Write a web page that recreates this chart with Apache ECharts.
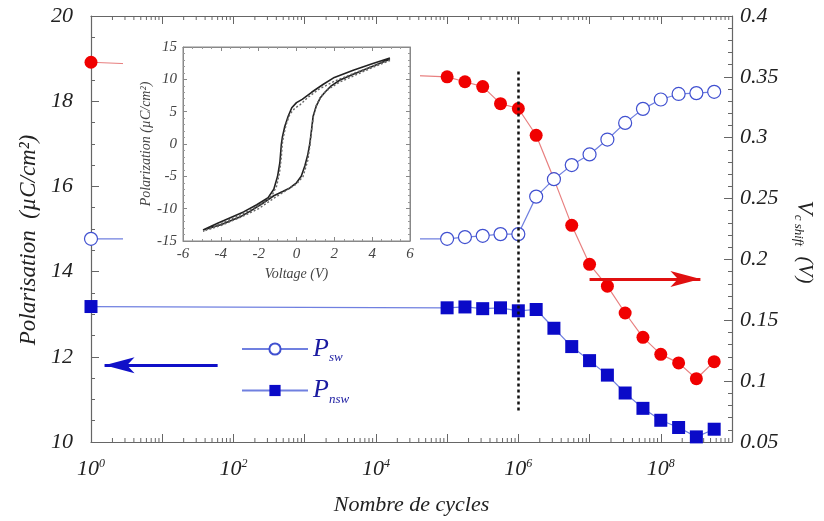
<!DOCTYPE html>
<html>
<head>
<meta charset="utf-8">
<script src="https://cdn.jsdelivr.net/npm/echarts@6/dist/echarts.min.js"></script>
<style>
  html, body { margin: 0; padding: 0; background: #fff; }
  #main { width: 824px; height: 521px; }
</style>
</head>
<body>
<div id="main"></div>
<script>
var myChart = echarts.init(document.getElementById('main'));

// nombre de cycles (log)
var cycles = [1, 1e5, 1.78e5, 3.16e5, 5.62e5, 1e6, 1.78e6, 3.16e6, 5.62e6,
              1e7, 1.78e7, 3.16e7, 5.62e7, 1e8, 1.78e8, 3.16e8, 5.62e8];
// V c shift (axe de droite)
var vcShift = [0.362, 0.350, 0.346, 0.342, 0.328, 0.324, 0.302, 0.266, 0.228,
               0.196, 0.178, 0.156, 0.136, 0.122, 0.115, 0.102, 0.116];
// P sw / P nsw (axe de gauche)
var pSw = [14.77, 14.77, 14.81, 14.84, 14.88, 14.88, 15.76, 16.17, 16.50,
           16.75, 17.10, 17.49, 17.82, 18.04, 18.17, 18.19, 18.22];
var pNsw = [13.18, 13.15, 13.17, 13.13, 13.15, 13.08, 13.11, 12.67, 12.24,
            11.91, 11.57, 11.15, 10.79, 10.51, 10.34, 10.12, 10.30];

// cycle d'hysteresis (encart) : branche haute puis basse
var upper1V = [4.94, 4.0, 3.0, 2.0, 1.4, 0.8, 0.3, 0, -0.25, -0.44, -0.62, -0.75, -0.8, -0.88, -1.0, -1.2, -1.5, -2.1, -2.8, -3.5, -4.2, -4.94];
var upper1P = [13.3, 12.4, 11.4, 10.3, 9.2, 8.0, 6.9, 6.4, 5.6, 4.3, 2.7, 1.0, 0, -2.9, -5.0, -7.0, -8.3, -9.4, -10.5, -11.4, -12.3, -13.3];
var lower1V = [-4.94, -4.0, -3.0, -2.4, -1.8, -1.2, -0.7, -0.35, 0, 0.25, 0.44, 0.6, 0.7, 0.78, 0.88, 1.05, 1.25, 1.5, 1.8, 2.3, 3.0, 4.0, 4.94];
var lower1P = [-13.5, -12.5, -11.3, -10.3, -9.2, -8.0, -7.3, -6.8, -6.0, -5.0, -3.4, -1.6, 0, 1.8, 4.3, 5.9, 7.1, 8.0, 8.9, 9.9, 10.8, 12.0, 13.1];
var upper2V = [4.94, 4.0, 3.0, 2.0, 1.2, 0.6, 0.2, -0.1, -0.35, -0.55, -0.7, -0.75, -0.8, -0.9, -1.05, -1.3, -1.7, -2.3, -3.0, -4.0, -4.94];
var upper2P = [13.0, 12.0, 10.9, 9.7, 8.5, 7.2, 6.1, 5.5, 4.6, 3.0, 1.0, 0, -2.0, -4.5, -6.5, -8.0, -9.0, -10.0, -11.0, -12.3, -13.5];
var lower2V = [-4.94, -4.0, -3.0, -2.0, -1.2, -0.5, 0, 0.35, 0.6, 0.72, 0.8, 0.9, 1.05, 1.3, 1.7, 2.3, 3.0, 4.0, 4.94];
var lower2P = [-13.7, -12.6, -11.4, -10.0, -8.4, -7.1, -6.2, -5.0, -2.5, 0, 2.2, 4.3, 6.0, 7.4, 8.5, 9.6, 10.5, 11.8, 12.9];

function pairs(xs, ys) {
    return xs.map(function (x, i) { return [x, ys[i]]; });
}

// graduations secondaires 2..9 x 10^k de l'axe log
var minorTicks = [];
for (var k = 0; k < 9; k++) {
    for (var m = 2; m < 10; m++) {
        minorTicks.push([m * Math.pow(10, k), 10]);
    }
}

var serif = 'Liberation Serif';
var axisCol = '#666';
var insetCol = '#888';

function mainTicks(split) {
    return {
        axisLine: { lineStyle: { color: axisCol, width: 1.2 } },
        axisTick: { inside: true, length: 8, lineStyle: { color: axisCol } },
        minorTick: { show: true, splitNumber: split, length: 4, lineStyle: { color: axisCol } },
        splitLine: { show: false }
    };
}

// axes de l'encart (dessines sur le calque 1, au-dessus du cache blanc)
function insetAxis(extra, split) {
    return Object.assign({
        gridIndex: 1, type: 'value', zlevel: 1, z: 4,
        axisLine: { onZero: false, lineStyle: { color: insetCol } },
        axisTick: { inside: true, length: 4, lineStyle: { color: insetCol } },
        minorTick: { show: true, splitNumber: split, length: 2, lineStyle: { color: '#999' } },
        axisLabel: { fontSize: 15, color: '#444', margin: 6 },
        nameTextStyle: { fontSize: 14, color: '#444', fontFamily: serif, fontStyle: 'italic' },
        splitLine: { show: false }
    }, extra);
}

var logLabel = function (v) {
    var e = Math.round(Math.log(v) / Math.LN10);
    if (e % 2) return '';
    return '{b|10}{s|' + e + '}';
};

myChart.setOption({
    animation: false,
    backgroundColor: '#fff',
    textStyle: { fontFamily: serif, fontStyle: 'italic' },
    grid: [
        { left: 91, top: 16, right: 90, bottom: 77 },
        { left: 183, top: 47, width: 227, height: 194, show: true, zlevel: 1, z: 3,
          backgroundColor: '#fff', borderColor: insetCol, borderWidth: 1 }
    ],
    graphic: {
        elements: [
            { type: 'rect', left: 123, top: 28, zlevel: 1, z: 0, silent: true,
              shape: { width: 297, height: 255 }, style: { fill: '#fff' } }
        ]
    },
    legend: {
        data: ['P_sw', 'P_nsw'],
        orient: 'vertical',
        left: 236, top: 331,
        itemWidth: 66, itemHeight: 14, itemGap: 13,
        formatter: function (name) {
            return '{p|P}{s|' + name.split('_')[1] + '}';
        },
        textStyle: {
            rich: {
                p: { fontSize: 26, color: '#1a1aa0', fontFamily: serif, fontStyle: 'italic' },
                s: { fontSize: 13, color: '#1a1aa0', fontFamily: serif, fontStyle: 'italic',
                     verticalAlign: 'bottom', padding: [18, 0, 0, 0] }
            }
        }
    },
    xAxis: [
        Object.assign({
            gridIndex: 0, type: 'log', logBase: 10, min: 1, max: 1e9, interval: 1,
            name: 'Nombre de cycles', nameLocation: 'middle', nameGap: 52,
            nameTextStyle: { fontSize: 22, color: '#222', fontFamily: serif, fontStyle: 'italic' },
            axisLabel: {
                margin: 16, formatter: logLabel, color: '#222',
                rich: {
                    b: { fontSize: 22, fontFamily: serif, fontStyle: 'italic', color: '#222' },
                    s: { fontSize: 12, fontFamily: serif, fontStyle: 'italic', color: '#222', verticalAlign: 'top' }
                }
            }
        }, mainTicks(1), { minorTick: { show: false } }),
        Object.assign({
            gridIndex: 0, type: 'log', logBase: 10, min: 1, max: 1e9, interval: 1,
            position: 'top', axisLabel: { show: false }
        }, mainTicks(1), { minorTick: { show: false } }),
        insetAxis({ min: -6, max: 6, interval: 2, name: 'Voltage (V)', nameLocation: 'middle', nameGap: 26 }, 4),
        insetAxis({ min: -6, max: 6, interval: 2, position: 'top', axisLabel: { show: false } }, 4)
    ],
    yAxis: [
        Object.assign({
            gridIndex: 0, type: 'value', min: 10, max: 20, interval: 2,
            name: 'Polarisation  (\u00b5C/cm\u00b2)', nameLocation: 'middle', nameGap: 46,
            nameTextStyle: { fontSize: 23, color: '#222', fontFamily: serif, fontStyle: 'italic',
                             padding: [0, 22, 0, 0] },
            axisLabel: { fontSize: 22, color: '#222', margin: 18 }
        }, mainTicks(4)),
        Object.assign({
            gridIndex: 0, type: 'value', min: 0.05, max: 0.4, interval: 0.05, position: 'right',
            name: '{v|V}{s|c shift}{n|  (V)}', nameLocation: 'middle', nameGap: 60, nameRotate: -90,
            nameTextStyle: {
                padding: [0, 0, 0, 26],
                rich: {
                    v: { fontSize: 23, color: '#222', fontFamily: serif, fontStyle: 'italic' },
                    s: { fontSize: 13, color: '#222', fontFamily: serif, fontStyle: 'italic', verticalAlign: 'bottom', padding: [12, 0, 0, 0] },
                    n: { fontSize: 21, color: '#222', fontFamily: serif, fontStyle: 'italic' }
                }
            },
            axisLabel: { fontSize: 22, color: '#222', margin: 8 }
        }, mainTicks(5)),
        insetAxis({ min: -15, max: 15, interval: 5, name: 'Polarization (\u00b5C/cm\u00b2)', nameLocation: 'middle', nameGap: 26 }, 5),
        insetAxis({ min: -15, max: 15, interval: 5, position: 'right', axisLabel: { show: false } }, 5)
    ],
    series: [
        {
            name: 'Vc', type: 'line', xAxisIndex: 0, yAxisIndex: 1,
            data: pairs(cycles, vcShift), clip: false,
            symbol: 'circle', symbolSize: 13,
            itemStyle: { color: '#f00000' },
            lineStyle: { color: '#e88080', width: 1.2 },
            markLine: {
                silent: true, symbol: ['none', 'arrow'], symbolSize: [12, 30],
                label: { show: false },
                lineStyle: { color: '#e01010', width: 3, type: 'solid' },
                data: [[{ coord: [1e7, 0.184] }, { coord: [3.6e8, 0.184] }]]
            }
        },
        {
            name: 'P_sw', type: 'line', xAxisIndex: 0, yAxisIndex: 0,
            data: pairs(cycles, pSw), clip: false,
            symbol: 'circle', symbolSize: 13,
            itemStyle: { color: '#fff', borderColor: '#4050d0', borderWidth: 1.2 },
            lineStyle: { color: '#7080e0', width: 1.2 }
        },
        {
            name: 'P_nsw', type: 'line', xAxisIndex: 0, yAxisIndex: 0,
            data: pairs(cycles, pNsw), clip: false,
            symbol: 'rect', symbolSize: 13,
            itemStyle: { color: '#0a0ac8' },
            lineStyle: { color: '#7080e0', width: 1.2 },
            markLine: {
                silent: true, symbol: ['none', 'none'], label: { show: false },
                data: [
                    [{ coord: [1e6, 18.7], lineStyle: { color: '#111', width: 2.5, type: [3, 3] } },
                     { coord: [1e6, 10.7] }],
                    [{ coord: [60, 11.8], symbol: 'none', lineStyle: { color: '#1010c8', width: 3, type: 'solid' } },
                     { coord: [1.55, 11.8], symbol: 'arrow', symbolSize: [12, 30] }]
                ]
            }
        },
        {
            name: 'minor', type: 'custom', xAxisIndex: 0, yAxisIndex: 0, silent: true,
            data: minorTicks, z: 1,
            renderItem: function (params, api) {
                var x = api.coord([api.value(0), 10])[0];
                var yb = api.coord([api.value(0), 10])[1];
                var yt = api.coord([api.value(0), 20])[1];
                var st = { stroke: axisCol, lineWidth: 1 };
                return {
                    type: 'group',
                    children: [
                        { type: 'line', shape: { x1: x, y1: yb, x2: x, y2: yb - 4 }, style: st },
                        { type: 'line', shape: { x1: x, y1: yt, x2: x, y2: yt + 4 }, style: st }
                    ]
                };
            }
        },
        {
            name: 'loop1', type: 'line', xAxisIndex: 2, yAxisIndex: 2, zlevel: 1, z: 6,
            data: pairs(upper1V.concat(lower1V), upper1P.concat(lower1P)),
            showSymbol: false, symbol: 'none',
            lineStyle: { color: '#222', width: 1.6 },
            markLine: {
                silent: true, symbol: ['none', 'none'], label: { show: false },
                lineStyle: { color: '#777', width: 1, type: 'solid' },
                data: [{ xAxis: 0 }, { yAxis: 0 }]
            }
        },
        {
            name: 'loop2', type: 'line', xAxisIndex: 2, yAxisIndex: 2, zlevel: 1, z: 6,
            data: pairs(upper2V.concat(lower2V), upper2P.concat(lower2P)),
            showSymbol: false, symbol: 'none',
            lineStyle: { color: '#666', width: 1.4, type: [2, 2] }
        }
    ]
});
</script>
</body>
</html>
